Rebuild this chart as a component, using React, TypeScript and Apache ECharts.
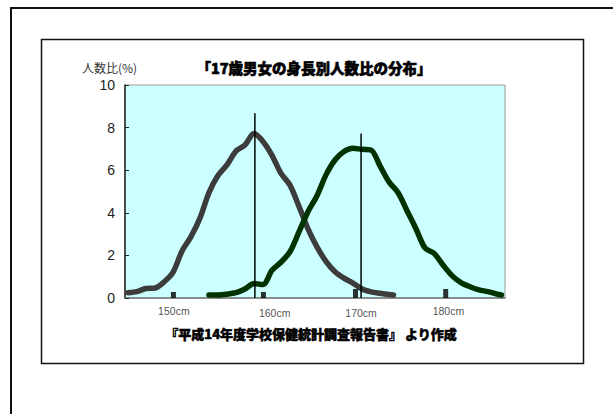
import React, { useEffect, useRef } from "react";
import * as echarts from "echarts";

// Female (gray) distribution: height (cm) -> share of people (%)
const femaleHeights = [145, 146, 147, 148, 149, 150, 151, 152, 153, 154, 155, 156, 157, 158, 159, 160, 161, 162, 163, 164, 165, 166, 167, 168, 169, 170, 171, 172, 173, 174, 174.5];
const femaleValues = [0.25, 0.3, 0.45, 0.47, 0.75, 1.2, 2.2, 2.88, 3.75, 4.95, 5.75, 6.25, 6.9, 7.18, 7.72, 7.35, 6.7, 5.85, 5.3, 4.3, 3.25, 2.4, 1.72, 1.23, 0.93, 0.7, 0.42, 0.29, 0.22, 0.16, 0.14];

// Male (green) distribution
const maleHeights = [154, 155, 156, 157, 158, 159, 160, 161, 162, 163, 164, 165, 166, 167, 168, 169, 170, 171, 172, 173, 174, 175, 176, 177, 178, 179, 180, 181, 182, 183, 184, 185, 186, 186.5];
const maleValues = [0.14, 0.14, 0.18, 0.25, 0.42, 0.68, 0.63, 1.3, 1.68, 2.17, 3.1, 4.05, 4.8, 5.78, 6.48, 6.88, 7.03, 6.98, 6.95, 6.2, 5.45, 4.95, 4.1, 3.25, 2.35, 2.1, 1.55, 1.05, 0.72, 0.53, 0.38, 0.3, 0.18, 0.14];

// Mean lines: [height, top value]
const femaleMean = [159.1, 8.67];
const maleMean = [170.9, 7.72];

// Small black markers at the bottom
const markerHeights = [150.05, 160.05, 170.28, 180.3];
const markerSizes = [6, 6, 9, 9];

// Text labels under the axis
const xLabels = ["150cm", "160cm", "170cm", "180cm"];
const xLabelCm = [150.1, 161.3, 170.9, 180.6];
const xLabelY = [-0.63, -0.72, -0.72, -0.6];

const yTicks = { min: 0, max: 10, interval: 2 };

const titleText = "「17歳男女の身長別人数比の分布」";
const yNameText = "人数比(%)";
const sourceText = "『平成14年度学校保健統計調査報告書』 より作成";

export default function App() {
  const ref = useRef<HTMLDivElement>(null);
  useEffect(() => {
    const chart = echarts.init(ref.current!, null, { renderer: "svg" });
    const cjk = "'Noto Sans CJK JP', 'Liberation Sans', sans-serif";
    chart.setOption({
      animation: false,
      backgroundColor: "#ffffff",
      grid: {
        left: 125,
        top: 85,
        right: 108,
        bottom: 116,
        show: true,
        backgroundColor: "#CCFFFF",
        borderColor: "#9a9a9a",
        borderWidth: 1,
      },
      xAxis: {
        type: "value",
        min: 144.67,
        max: 186.89,
        axisLine: { show: true, onZero: false, lineStyle: { color: "#777", width: 1.5 } },
        axisTick: { show: false },
        axisLabel: { show: false },
        splitLine: { show: false },
      },
      yAxis: {
        type: "value",
        min: yTicks.min,
        max: yTicks.max,
        interval: yTicks.interval,
        axisLine: { show: true, lineStyle: { color: "#222", width: 1.5 } },
        axisTick: { show: true, inside: true, length: 4, lineStyle: { color: "#222" } },
        axisLabel: { fontSize: 14, color: "#222", margin: 10, fontFamily: "'Liberation Sans', Arial, sans-serif" },
        splitLine: { show: false },
      },
      graphic: [
        {
          type: "rect",
          shape: { x: 11, y: 8, width: 700, height: 500 },
          style: { fill: "none", stroke: "#111", lineWidth: 2 },
        },
        {
          type: "rect",
          shape: { x: 41.5, y: 39.5, width: 542, height: 324 },
          style: { fill: "none", stroke: "#111", lineWidth: 1.5 },
        },
        {
          type: "text",
          x: 314,
          y: 67,
          style: {
            text: titleText,
            fontSize: 14.5,
            fontWeight: 900,
            fontFamily: cjk,
            fill: "#000",
            stroke: "#000",
            lineWidth: 0.6,
            align: "center",
            verticalAlign: "middle",
          },
        },
        {
          type: "text",
          x: 82,
          y: 67,
          style: {
            text: yNameText,
            fontSize: 12,
            fontFamily: cjk,
            fill: "#333",
            align: "left",
            verticalAlign: "middle",
          },
        },
        {
          type: "text",
          x: 311,
          y: 333,
          style: {
            text: sourceText,
            fontSize: 13,
            fontWeight: 900,
            fontFamily: cjk,
            fill: "#000",
            stroke: "#000",
            lineWidth: 0.5,
            align: "center",
            verticalAlign: "middle",
          },
        },
      ],
      series: [
        {
          type: "line",
          name: "female",
          data: femaleHeights.map((h, i) => [h, femaleValues[i]]),
          smooth: 0.3,
          symbol: "none",
          lineStyle: { color: "#3c3c3c", width: 5.5, cap: "round", join: "round" },
          z: 3,
        },
        {
          type: "line",
          name: "male",
          data: maleHeights.map((h, i) => [h, maleValues[i]]),
          smooth: 0.3,
          symbol: "none",
          lineStyle: { color: "#003300", width: 5.5, cap: "round", join: "round" },
          z: 3,
        },
        {
          type: "line",
          data: [[femaleMean[0], 0], [femaleMean[0], femaleMean[1]]],
          symbol: "none",
          lineStyle: { color: "#000", width: 1.5 },
          z: 4,
        },
        {
          type: "line",
          data: [[maleMean[0], 0], [maleMean[0], maleMean[1]]],
          symbol: "none",
          lineStyle: { color: "#000", width: 1.5 },
          z: 4,
        },
        {
          type: "scatter",
          data: markerHeights.map((h, i) => ({
            value: [h, 0],
            symbolSize: [5, markerSizes[i]],
            symbolOffset: [0, -markerSizes[i] / 2],
          })),
          symbol: "rect",
          itemStyle: { color: "#000" },
          z: 5,
        },
        {
          type: "scatter",
          clip: false,
          symbolSize: 0,
          data: xLabels.map((t, i) => ({ name: t, value: [xLabelCm[i], xLabelY[i]] })),
          label: {
            show: true,
            position: "inside",
            formatter: "{b}",
            fontSize: 10.5,
            color: "#222",
            fontFamily: "'Liberation Sans', Arial, sans-serif",
          },
          z: 5,
        },
      ],
    });
    return () => chart.dispose();
  }, []);
  return (
    <div
      ref={ref}
      style={{ position: "fixed", left: 0, top: 0, width: 613, height: 414, background: "#fff" }}
    />
  );
}
